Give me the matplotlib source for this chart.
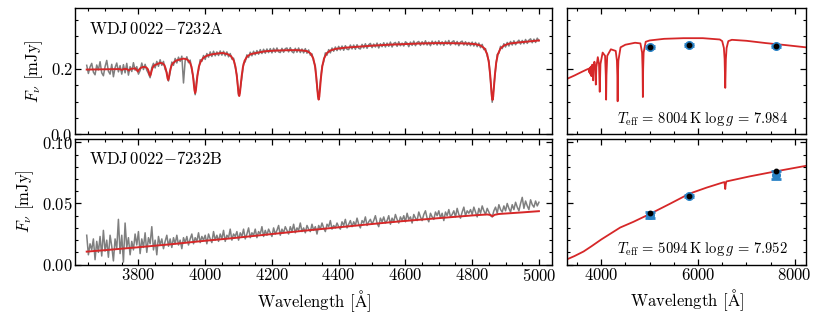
import matplotlib
matplotlib.use("Agg")
import matplotlib.pyplot as plt
import numpy as np
from matplotlib.ticker import MultipleLocator

plt.rcParams["font.family"] = "serif"
plt.rcParams["font.serif"] = ["cmr10"]
plt.rcParams["mathtext.fontset"] = "cm"
plt.rcParams["axes.formatter.use_mathtext"] = True
plt.rcParams["font.size"] = 12
plt.rcParams["axes.linewidth"] = 1.0

# --- observed spectra (5 A grid, 3645..5000 A) ---
obs_wave = np.arange(3645, 5001, 5)

obs_flux_a = [
    0.211, 0.186, 0.206, 0.217, 0.190, 0.182, 0.212, 0.197, 0.222, 0.188,
    0.179, 0.207, 0.226, 0.193, 0.184, 0.214, 0.176, 0.204, 0.218, 0.191,
    0.210, 0.184, 0.213, 0.188, 0.217, 0.181, 0.207, 0.192, 0.219, 0.196,
    0.207, 0.184, 0.195, 0.218, 0.198, 0.214, 0.196, 0.186, 0.173, 0.204,
    0.217, 0.203, 0.223, 0.208, 0.228, 0.211, 0.223, 0.198, 0.190, 0.163,
    0.190, 0.221, 0.211, 0.232, 0.218, 0.236, 0.223, 0.239, 0.157, 0.225,
    0.237, 0.219, 0.227, 0.196, 0.170, 0.121, 0.171, 0.195, 0.228, 0.223,
    0.241, 0.229, 0.247, 0.236, 0.252, 0.238, 0.254, 0.240, 0.252, 0.241,
    0.255, 0.242, 0.254, 0.240, 0.252, 0.237, 0.247, 0.230, 0.233, 0.205,
    0.181, 0.119, 0.139, 0.174, 0.217, 0.222, 0.243, 0.235, 0.251, 0.240,
    0.254, 0.243, 0.256, 0.245, 0.259, 0.247, 0.260, 0.248, 0.261, 0.250,
    0.262, 0.249, 0.263, 0.251, 0.264, 0.252, 0.250, 0.263, 0.251, 0.262,
    0.264, 0.252, 0.265, 0.253, 0.249, 0.263, 0.251, 0.264, 0.250, 0.261,
    0.249, 0.262, 0.248, 0.258, 0.242, 0.246, 0.223, 0.209, 0.145, 0.107,
    0.160, 0.207, 0.222, 0.249, 0.242, 0.259, 0.249, 0.264, 0.254, 0.267,
    0.256, 0.269, 0.258, 0.270, 0.257, 0.271, 0.260, 0.259, 0.273, 0.261,
    0.273, 0.260, 0.274, 0.263, 0.261, 0.275, 0.264, 0.277, 0.263, 0.274,
    0.278, 0.265, 0.276, 0.267, 0.279, 0.264, 0.277, 0.268, 0.280, 0.267,
    0.279, 0.269, 0.282, 0.267, 0.278, 0.281, 0.269, 0.283, 0.271, 0.279,
    0.270, 0.283, 0.279, 0.268, 0.282, 0.272, 0.285, 0.271, 0.281, 0.284,
    0.272, 0.283, 0.274, 0.286, 0.273, 0.282, 0.271, 0.285, 0.275, 0.284,
    0.273, 0.286, 0.274, 0.283, 0.272, 0.285, 0.276, 0.287, 0.273, 0.283,
    0.286, 0.274, 0.284, 0.271, 0.282, 0.285, 0.273, 0.283, 0.272, 0.281,
    0.271, 0.282, 0.270, 0.281, 0.268, 0.279, 0.265, 0.275, 0.259, 0.262,
    0.240, 0.225, 0.165, 0.098, 0.146, 0.198, 0.244, 0.248, 0.269, 0.262,
    0.277, 0.267, 0.281, 0.270, 0.284, 0.273, 0.286, 0.274, 0.282, 0.288,
    0.276, 0.287, 0.277, 0.290, 0.278, 0.288, 0.292, 0.280, 0.291, 0.281,
    0.294, 0.286,
]

obs_flux_b = [
    0.024, 0.008, 0.017, 0.012, 0.021, 0.004, 0.019, 0.010, 0.023, 0.007,
    0.028, 0.011, 0.020, 0.006, 0.024, 0.015, 0.003, 0.021, 0.013, 0.037,
    0.009, 0.024, 0.002, 0.034, 0.014, 0.022, 0.008, 0.019, 0.012, 0.025,
    0.016, 0.027, 0.009, 0.021, 0.014, 0.026, 0.010, 0.022, 0.017, 0.031,
    0.012, 0.020, 0.008, 0.023, 0.016, 0.021, 0.013, 0.019, 0.024, 0.015,
    0.021, 0.014, 0.022, 0.017, 0.024, 0.016, 0.020, 0.013, 0.022, 0.018,
    0.023, 0.016, 0.021, 0.025, 0.017, 0.022, 0.019, 0.026, 0.018, 0.023,
    0.020, 0.024, 0.017, 0.025, 0.021, 0.018, 0.027, 0.020, 0.024, 0.019,
    0.025, 0.021, 0.028, 0.019, 0.024, 0.022, 0.029, 0.020, 0.025, 0.023,
    0.027, 0.020, 0.026, 0.023, 0.029, 0.021, 0.025, 0.030, 0.022, 0.026,
    0.024, 0.029, 0.022, 0.027, 0.025, 0.031, 0.023, 0.028, 0.024, 0.029,
    0.026, 0.023, 0.030, 0.025, 0.028, 0.032, 0.024, 0.029, 0.026, 0.031,
    0.028, 0.025, 0.031, 0.027, 0.033, 0.026, 0.030, 0.028, 0.034, 0.027,
    0.030, 0.026, 0.032, 0.029, 0.027, 0.033, 0.028, 0.031, 0.025, 0.032,
    0.029, 0.034, 0.030, 0.027, 0.033, 0.031, 0.036, 0.029, 0.032, 0.030,
    0.034, 0.031, 0.029, 0.035, 0.032, 0.037, 0.030, 0.033, 0.036, 0.031,
    0.035, 0.032, 0.038, 0.033, 0.030, 0.036, 0.034, 0.039, 0.032, 0.035,
    0.037, 0.033, 0.036, 0.040, 0.034, 0.031, 0.038, 0.035, 0.039, 0.034,
    0.036, 0.040, 0.033, 0.038, 0.035, 0.041, 0.037, 0.034, 0.039, 0.036,
    0.040, 0.035, 0.042, 0.037, 0.039, 0.034, 0.041, 0.038, 0.036, 0.043,
    0.039, 0.036, 0.041, 0.044, 0.038, 0.035, 0.042, 0.039, 0.037, 0.043,
    0.040, 0.044, 0.038, 0.042, 0.036, 0.043, 0.040, 0.045, 0.039, 0.041,
    0.044, 0.039, 0.046, 0.041, 0.038, 0.043, 0.047, 0.040, 0.044, 0.042,
    0.045, 0.041, 0.047, 0.043, 0.039, 0.046, 0.042, 0.048, 0.044, 0.041,
    0.046, 0.043, 0.040, 0.039, 0.044, 0.047, 0.042, 0.049, 0.045, 0.043,
    0.048, 0.044, 0.050, 0.046, 0.043, 0.049, 0.045, 0.051, 0.047, 0.044,
    0.050, 0.055, 0.046, 0.052, 0.048, 0.045, 0.053, 0.049, 0.047, 0.052,
    0.048, 0.051,
]

# --- best-fit model spectra over the observed range ---
model_wave_a = [
    3645, 3680, 3710, 3730, 3744, 3750, 3756, 3764, 3768, 3771,
    3774, 3778, 3786, 3790, 3794, 3796, 3798, 3800, 3802, 3806,
    3812, 3819, 3824, 3828, 3831, 3833, 3835, 3837, 3839, 3842,
    3846, 3851, 3858, 3865, 3873, 3878, 3882, 3885, 3887, 3889,
    3891, 3893, 3896, 3900, 3905, 3913, 3925, 3935, 3946, 3954,
    3959, 3963, 3966, 3968, 3970, 3972, 3974, 3977, 3981, 3986,
    3994, 4005, 4020, 4040, 4052, 4067, 4078, 4086, 4091, 4095,
    4098, 4100, 4102, 4104, 4106, 4109, 4113, 4118, 4126, 4137,
    4152, 4180, 4210, 4240, 4270, 4290, 4305, 4316, 4324, 4329,
    4333, 4336, 4338, 4340, 4342, 4344, 4347, 4351, 4356, 4364,
    4375, 4390, 4420, 4460, 4500, 4550, 4600, 4650, 4700, 4750,
    4790, 4811, 4826, 4837, 4845, 4850, 4854, 4857, 4859, 4861,
    4863, 4865, 4868, 4872, 4877, 4885, 4896, 4911, 4940, 4970,
    5000,
]
model_flux_a = [
    0.198, 0.1985, 0.199, 0.1995, 0.1995, 0.197, 0.1995, 0.1998, 0.1978, 0.195,
    0.1978, 0.2003, 0.2012, 0.2015, 0.198, 0.195, 0.192, 0.195, 0.198, 0.2025,
    0.2055, 0.206, 0.2042, 0.1995, 0.1913, 0.1827, 0.179, 0.1837, 0.1923, 0.2025,
    0.2095, 0.2125, 0.2155, 0.2185, 0.2166, 0.2113, 0.1996, 0.1845, 0.172, 0.166,
    0.172, 0.1845, 0.200, 0.2125, 0.219, 0.2255, 0.229, 0.2315, 0.229, 0.2203,
    0.2066, 0.182, 0.1535, 0.134, 0.126, 0.134, 0.1535, 0.182, 0.2066, 0.221,
    0.2335, 0.2405, 0.2445, 0.2475, 0.2486, 0.2453, 0.2385, 0.225, 0.2053, 0.1756,
    0.144, 0.125, 0.117, 0.125, 0.144, 0.1756, 0.2053, 0.225, 0.2385, 0.2453,
    0.2486, 0.254, 0.256, 0.257, 0.2575, 0.2565, 0.2545, 0.2473, 0.2316, 0.2087,
    0.1741, 0.1374, 0.1153, 0.106, 0.1153, 0.1374, 0.1741, 0.2087, 0.2316, 0.248,
    0.2562, 0.2611, 0.265, 0.268, 0.271, 0.274, 0.276, 0.278, 0.279, 0.2785,
    0.2775, 0.2755, 0.2713, 0.2625, 0.245, 0.2194, 0.181, 0.140, 0.1153, 0.105,
    0.1153, 0.140, 0.181, 0.2194, 0.245, 0.2628, 0.272, 0.2775, 0.281, 0.284,
    0.287,
]

model_wave_b = [3645, 3700, 3800, 3900, 4000, 4075, 4200, 4300, 4400, 4500,
                4585, 4700, 4800, 4845, 4855, 4861, 4867, 4880, 4950, 5000]
model_flux_b = [0.0106, 0.0118, 0.0142, 0.0167, 0.0195, 0.0214, 0.0250, 0.0278,
                0.0305, 0.0332, 0.0354, 0.0380, 0.0402, 0.0410, 0.0406, 0.0395,
                0.0407, 0.0414, 0.0427, 0.0437]

# --- full-range model SEDs for the photometric fit ---
sed_wave_a = [
    3300, 3450, 3600, 3700, 3740, 3746, 3750, 3754, 3762, 3768,
    3771, 3774, 3785, 3793, 3798, 3803, 3815, 3828, 3835, 3842,
    3860, 3878, 3889, 3900, 3930, 3955, 3970, 3985, 4030, 4080,
    4095, 4102, 4109, 4125, 4200, 4300, 4325, 4334, 4340, 4346,
    4355, 4400, 4500, 4700, 4810, 4845, 4855, 4861, 4867, 4877,
    4920, 5000, 5300, 5700, 6100, 6450, 6500, 6535, 6550, 6563,
    6576, 6591, 6626, 6700, 7000, 7400, 7800, 8230,
]
sed_flux_a = [
    0.170, 0.180, 0.191, 0.198, 0.2005, 0.196, 0.190, 0.196, 0.203, 0.195,
    0.185, 0.195, 0.207, 0.198, 0.178, 0.198, 0.213, 0.200, 0.165, 0.200,
    0.222, 0.205, 0.152, 0.205, 0.236, 0.215, 0.130, 0.215, 0.250, 0.240,
    0.180, 0.106, 0.180, 0.240, 0.260, 0.255, 0.225, 0.180, 0.101, 0.180,
    0.225, 0.266, 0.274, 0.280, 0.278, 0.250, 0.200, 0.114, 0.200, 0.250,
    0.283, 0.287, 0.292, 0.294, 0.294, 0.290, 0.285, 0.264, 0.230, 0.142,
    0.230, 0.264, 0.285, 0.289, 0.286, 0.279, 0.273, 0.266,
]

sed_wave_b = [3300, 3450, 3636, 3800, 4000, 4200, 4392, 4667, 5010, 5423,
              5821, 6179, 6500, 6545, 6555, 6563, 6571, 6585, 7072, 7622, 8230]
sed_flux_b = [0.0044, 0.0070, 0.0107, 0.0150, 0.0205, 0.0255, 0.0303, 0.0350,
              0.0415, 0.0498, 0.0580, 0.0630, 0.0670, 0.0675, 0.0650, 0.0618,
              0.0652, 0.0680, 0.0722, 0.0764, 0.0808]

# --- photometry: measured (with errors) and synthetic ---
phot_wave = [5010, 5820, 7620]
phot_flux_a = [0.267, 0.2735, 0.2695]
phot_err_a = [0.003, 0.003, 0.003]
synth_flux_a = [0.267, 0.2735, 0.2695]
phot_flux_b = [0.0406, 0.0562, 0.0733]
phot_err_b = [0.0025, 0.001, 0.003]
synth_flux_b = [0.0423, 0.0563, 0.0764]

names = [r"WDJ$\,$0022$-$7232A", r"WDJ$\,$0022$-$7232B"]
fit_labels = [r"$T_{\rm eff}\,=\,8004\,{\rm K}\ \log g\,=\,7.984$",
              r"$T_{\rm eff}\,=\,5094\,{\rm K}\ \log g\,=\,7.952$"]

RED = "#d62728"
GREY = "#7f7f7f"
BLUE = "#2b83c6"


def style_axis(ax):
    """Ticks inside on all four sides, with minor ticks."""
    ax.tick_params(which="both", direction="in", top=True, right=True, pad=1.5)
    ax.tick_params(which="major", length=4.5, width=0.9)
    ax.tick_params(which="minor", length=2.5, width=0.8)


def main():
    fig = plt.figure(figsize=(8.3, 3.12), dpi=100)
    gs = fig.add_gridspec(2, 2, width_ratios=[2.0, 1.0], left=0.0904, right=0.971,
                          top=0.973, bottom=0.152, hspace=0.035, wspace=0.042)
    ax_spec_a = fig.add_subplot(gs[0, 0])
    ax_spec_b = fig.add_subplot(gs[1, 0], sharex=ax_spec_a)
    ax_sed_a = fig.add_subplot(gs[0, 1], sharey=ax_spec_a)
    ax_sed_b = fig.add_subplot(gs[1, 1], sharex=ax_sed_a, sharey=ax_spec_b)

    spectra = [
        (ax_spec_a, obs_flux_a, model_wave_a, model_flux_a),
        (ax_spec_b, obs_flux_b, model_wave_b, model_flux_b),
    ]
    for idx, (ax, obs, mw, mf) in enumerate(spectra):
        ax.plot(obs_wave, obs, color=GREY, lw=1.1, zorder=2)
        ax.plot(mw, mf, color=RED, lw=1.4, zorder=3)
        ax.text(0.029, 0.80, names[idx], transform=ax.transAxes, va="baseline")
        ax.set_ylabel(r"$F_\nu$ [mJy]", labelpad=4)

    seds = [
        (ax_sed_a, sed_wave_a, sed_flux_a, phot_flux_a, phot_err_a, synth_flux_a),
        (ax_sed_b, sed_wave_b, sed_flux_b, phot_flux_b, phot_err_b, synth_flux_b),
    ]
    for idx, (ax, sw, sf, pf, pe, syn) in enumerate(seds):
        ax.plot(sw, sf, color=RED, lw=1.3, zorder=2)
        ax.errorbar(phot_wave, pf, yerr=pe, fmt="o", ms=5.5, color=BLUE,
                    ecolor=BLUE, elinewidth=2.2, capsize=3.5, capthick=2.0, zorder=3)
        ax.plot(phot_wave, syn, "o", ms=3.2, color="black", zorder=4)
        ax.text(0.925, 0.09, fit_labels[idx], transform=ax.transAxes,
                ha="right", va="baseline", fontsize=10.5)
        ax.tick_params(labelleft=False)

    ax_spec_a.set_xlim(3610, 5040)
    ax_sed_a.set_xlim(3300, 8230)
    ax_spec_a.set_ylim(0, 0.385)
    ax_spec_b.set_ylim(0, 0.103)

    ax_spec_a.xaxis.set_major_locator(MultipleLocator(200))
    ax_spec_a.xaxis.set_minor_locator(MultipleLocator(50))
    ax_sed_a.xaxis.set_major_locator(MultipleLocator(2000))
    ax_sed_a.xaxis.set_minor_locator(MultipleLocator(500))
    ax_spec_a.yaxis.set_major_locator(MultipleLocator(0.2))
    ax_spec_a.yaxis.set_minor_locator(MultipleLocator(0.05))
    ax_spec_b.yaxis.set_major_locator(MultipleLocator(0.05))
    ax_spec_b.yaxis.set_minor_locator(MultipleLocator(0.01))

    for ax in (ax_spec_a, ax_sed_a):
        ax.tick_params(labelbottom=False)
    for ax in (ax_spec_b, ax_sed_b):
        ax.set_xlabel(r"Wavelength [$\mathrm{\AA}$]", labelpad=3)
    for ax in (ax_spec_a, ax_spec_b, ax_sed_a, ax_sed_b):
        style_axis(ax)

    fig.savefig("out.png", dpi=100)
    plt.close(fig)


if __name__ == "__main__":
    main()
